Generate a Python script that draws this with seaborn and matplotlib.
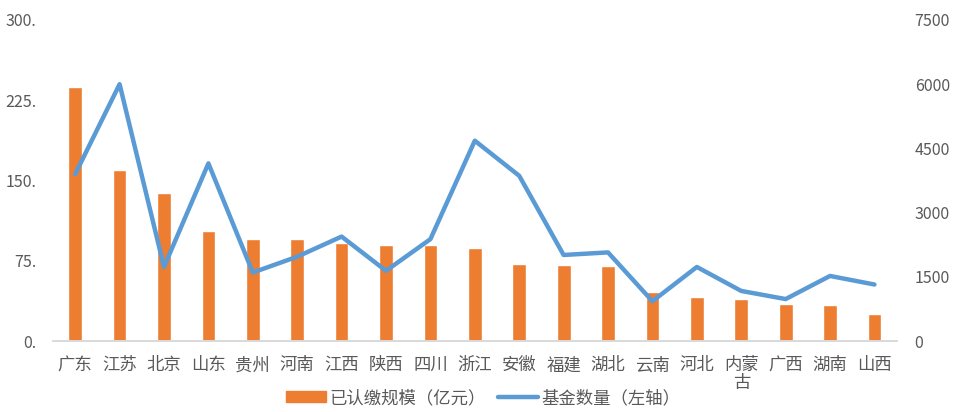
import matplotlib
matplotlib.use("Agg")
import matplotlib.pyplot as plt
import seaborn as sns
import numpy as np
import pandas as pd
from matplotlib.patches import Patch
from matplotlib.lines import Line2D

provinces = ["广东", "江苏", "北京", "山东", "贵州", "河南", "江西", "陕西", "四川", "浙江",
             "安徽", "福建", "湖北", "云南", "河北", "内蒙\n古", "广西", "湖南", "山西"]
subscribed = [237, 160, 138, 103, 95, 95, 92, 90, 89.5, 86.5,
              72, 71, 70, 45.5, 41, 39.5, 35, 34, 25]
fund_count = [3900, 6000, 1730, 4150, 1600, 1970, 2440, 1640, 2380, 4680,
              3860, 2010, 2070, 930, 1730, 1170, 980, 1520, 1320]
left_ticks = [0, 75, 150, 225, 300]
left_labels = ["0.", "75.", "150.", "225.", "300."]
right_ticks = [0, 1500, 3000, 4500, 6000, 7500]
bar_label = "已认缴规模（亿元）"
line_label = "基金数量（左轴）"

sns.set_style("white")
plt.rcParams['font.family'] = ['Noto Sans CJK SC', 'DejaVu Sans']

BAR_C = "#ED7D31"
LINE_C = "#5B9BD5"
TXT_C = "#595959"
FS = 11.5
FS_CN = 12.5

df = pd.DataFrame({"province": provinces, "subscribed": subscribed,
                   "pos": np.arange(len(provinces)), "funds": fund_count})

fig = plt.figure(figsize=(9.6, 4.12), dpi=100)
ax = fig.add_axes([0.0552, 0.1723, 0.8788, 0.7792])
sns.barplot(data=df, x="province", y="subscribed", color=BAR_C, saturation=1,
            width=0.31, ax=ax)
ax.set_ylim(0, 300)
ax.set_xlim(-0.5, len(provinces) - 0.5)
ax.set_yticks(left_ticks)
ax.set_yticklabels(left_labels)
ax.set_xlabel("")
ax.set_ylabel("")

ax2 = ax.twinx()
sns.lineplot(data=df, x="pos", y="funds", color=LINE_C, linewidth=3.2, sort=False,
             ax=ax2, legend=False)
ax2.set_ylim(0, 7500)
ax2.set_yticks(right_ticks)
ax2.set_yticklabels([str(t) for t in right_ticks])
ax2.set_xlim(-0.5, len(provinces) - 0.5)
ax2.set_ylabel("")
ax2.set_xlabel("")

for a in (ax, ax2):
    for s in ["top", "left", "right"]:
        a.spines[s].set_visible(False)
    a.spines["bottom"].set_color("#D9D9D9")
    a.spines["bottom"].set_linewidth(1.2)
    a.tick_params(axis="both", length=0, labelsize=FS, labelcolor=TXT_C)
    a.grid(False)

ax.tick_params(axis="x", pad=11, labelsize=FS_CN)
ax.tick_params(axis="y", pad=12)
ax2.tick_params(axis="y", pad=13)
for lab in ax.get_xticklabels():
    lab.set_multialignment("center")
    lab.set_verticalalignment("top")
    lab.set_linespacing(1.0)

handles = [Patch(facecolor=BAR_C, edgecolor=BAR_C),
           Line2D([0], [0], color=LINE_C, linewidth=3.2)]
fig.legend(handles, [bar_label, line_label], loc="center", bbox_to_anchor=(0.503, 0.034),
           ncol=2, frameon=False, fontsize=FS_CN, labelcolor=TXT_C, handlelength=2.3,
           handletextpad=0.2, columnspacing=0.7, handleheight=0.6)

fig.savefig("out.png", dpi=100, facecolor="white")
